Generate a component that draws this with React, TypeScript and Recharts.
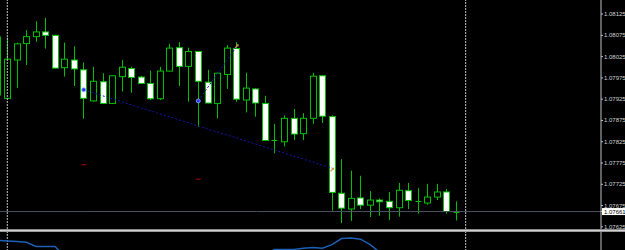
import React from 'react'
import {
  ComposedChart, LineChart, Bar, Line, Scatter, XAxis, YAxis, ReferenceLine
} from 'recharts'

// bar index -> OHLC (EURUSD)
const bars = [
  0, 1, 2, 3, 4, 5, 6, 7, 8, 9, 10, 11, 12, 13, 14, 15, 16, 17, 18, 19, 20, 21, 22, 23, 24,
  25, 26, 27, 28, 29, 30, 31, 32, 33, 34, 35, 36, 37, 38, 39, 40, 41, 42, 43, 44, 45, 46, 47, 48
]
const opens = [
  1.08071, 1.07927, 1.08017, 1.08056, 1.08072, 1.08083, 1.08075, 1.07999, 1.08017, 1.07994,
  1.07921, 1.07966, 1.07915, 1.07978, 1.07997, 1.07977, 1.07962, 1.07926, 1.07991, 1.08046,
  1.08002, 1.08037, 1.07965, 1.07915, 1.07983, 1.08044, 1.07923, 1.07949, 1.07915, 1.07828,
  1.07825, 1.07880, 1.07844, 1.07880, 1.07980, 1.07884, 1.07704, 1.07667, 1.07693, 1.07676,
  1.07688, 1.07685, 1.07670, 1.07710, 1.07684, 1.07681, 1.07695, 1.07707, 1.07661
]
const highs = [
  1.08073, 1.08070, 1.08058, 1.08087, 1.08108, 1.08116, 1.08076, 1.08058, 1.08049, 1.08011,
  1.08001, 1.07986, 1.07981, 1.08017, 1.08001, 1.07980, 1.07992, 1.08001, 1.08055, 1.08059,
  1.08046, 1.08038, 1.07994, 1.07987, 1.08052, 1.08059, 1.07987, 1.07951, 1.07933, 1.07867,
  1.07887, 1.07902, 1.07892, 1.07987, 1.07981, 1.07887, 1.07784, 1.07757, 1.07745, 1.07709,
  1.07692, 1.07707, 1.07728, 1.07728, 1.07716, 1.07726, 1.07726, 1.07714, 1.07685
]
const lows = [
  1.07928, 1.07925, 1.07951, 1.08005, 1.08060, 1.08044, 1.07997, 1.07978, 1.07956, 1.07879,
  1.07919, 1.07914, 1.07914, 1.07943, 1.07940, 1.07961, 1.07923, 1.07923, 1.07990, 1.07956,
  1.07919, 1.07860, 1.07915, 1.07880, 1.07949, 1.07919, 1.07894, 1.07884, 1.07827, 1.07798,
  1.07814, 1.07829, 1.07829, 1.07867, 1.07869, 1.07663, 1.07634, 1.07639, 1.07667, 1.07648,
  1.07651, 1.07641, 1.07649, 1.07667, 1.07656, 1.07677, 1.07688, 1.07656, 1.07640
]
const closes = [
  1.07935, 1.08019, 1.08055, 1.08072, 1.08083, 1.08075, 1.07998, 1.08019, 1.07996, 1.07927,
  1.07967, 1.07915, 1.07980, 1.08000, 1.07976, 1.07962, 1.07926, 1.07991, 1.08045, 1.08002,
  1.08037, 1.07967, 1.07916, 1.07986, 1.08045, 1.07925, 1.07951, 1.07916, 1.07828, 1.07829,
  1.07880, 1.07843, 1.07880, 1.07979, 1.07885, 1.07706, 1.07669, 1.07692, 1.07676, 1.07688,
  1.07684, 1.07670, 1.07711, 1.07687, 1.07686, 1.07695, 1.07707, 1.07661, 1.07661
]

// indicator in the lower window
const oscValues = [
  0.00102, 0.00101, 0.00100, 0.00099, 0.00092, 0.00092, 0.00092, 0.00075, 0.00072, 0.00070,
  0.00069, 0.00068, 0.00067, 0.00066, 0.00066, 0.00065, 0.00065, 0.00064, 0.00065, 0.00066,
  0.00067, 0.00068, 0.00069, 0.00070, 0.00071, 0.00072, 0.00073, 0.00075, 0.00078, 0.00087,
  0.00087, 0.00087, 0.00089, 0.00090, 0.00089, 0.00095, 0.00105, 0.00106, 0.00104, 0.00095,
  0.00082, 0.00078, 0.00075, 0.00073, 0.00071, 0.00070, 0.00069, 0.00068, 0.00068
]

const priceTicks = [
  1.08125, 1.08075, 1.08025, 1.07975, 1.07925, 1.07875,
  1.07825, 1.07775, 1.07725, 1.07675, 1.07625
]
const bidPrice = 1.07661
const oscTicks = [0.0011]
const periodSeparators = [1, 49]

// divergence lines (bar index, price)
const divLineA = [{ i: 9, price: 1.07947 }, { i: 35, price: 1.07763 }]
const divLineB = [{ i: 21, price: 1.07921 }, { i: 25, price: 1.08048 }]
const blueDots = [{ i: 9, price: 1.07947 }, { i: 21, price: 1.07921 }]
const arrows = [{ i: 25, price: 1.08049 }, { i: 35, price: 1.07759 }]
const redMarks = [{ i: 9, price: 1.07771 }, { i: 21, price: 1.07737 }]

const X_DOMAIN: [number, number] = [0.2356, 63.17]
const P_DOMAIN: [number, number] = [1.07620, 1.08158]
const OSC_DOMAIN: [number, number] = [0.000493, 0.00116]

const GREEN = '#00c000'
const AXIS = '#c0c0c0'
const LABEL = '#d0d0d0'
const FONT = '"Liberation Sans", Arial, sans-serif'

const rows = bars.map((i, k) => {
  const a = divLineA.find(d => d.i === i)
  const b = divLineB.find(d => d.i === i)
  return {
    i,
    open: opens[k],
    high: highs[k],
    low: lows[k],
    close: closes[k],
    range: [lows[k], highs[k]],
    divA: a ? a.price : null,
    divB: b ? b.price : null
  }
})

const oscRows = bars.map((i, k) => ({ i, v: oscValues[k] }))

function Candle(props: any) {
  const { x, y, width, height, payload } = props
  if (!payload || height == null) return null
  const { open, high, low, close } = payload
  const k = height / (high - low)
  const cx = Math.round(x + width / 2) + 0.5
  const yOf = (p: number) => y + (high - p) * k
  const top = yOf(Math.max(open, close))
  const bot = yOf(Math.min(open, close))
  const bull = close >= open
  return (
    <g>
      <line x1={cx} x2={cx} y1={y} y2={y + height} stroke={GREEN} strokeWidth={1} />
      {bot - top < 1.5 ? (
        <line x1={cx - 3} x2={cx + 3} y1={Math.round(top) + 0.5} y2={Math.round(top) + 0.5} stroke={GREEN} />
      ) : (
        <rect x={cx - 3} y={top} width={6} height={bot - top} fill={bull ? '#000' : '#fff'} stroke={GREEN} strokeWidth={1} />
      )}
    </g>
  )
}

function PriceTick(props: any) {
  const { x, y, payload } = props
  const v = payload.value as number
  if (Math.abs(v - bidPrice) < 1e-7) {
    return (
      <g>
        <rect x={x - 2} y={y - 3.5} width={26} height={7} fill="#ffffff" />
        <text x={x} y={y} dy={2} fontSize={6} fontFamily={FONT} fill="#000" textAnchor="start">
          {v.toFixed(5)}
        </text>
      </g>
    )
  }
  return (
    <text x={x} y={y} dy={2} fontSize={6} fontFamily={FONT} fill={LABEL} textAnchor="start">
      {v.toFixed(5)}
    </text>
  )
}

function OscTick(props: any) {
  const { x, y, payload } = props
  return (
    <text x={x} y={y} dy={2} fontSize={6} fontFamily={FONT} fill={LABEL} textAnchor="start">
      {(payload.value as number).toFixed(4)}
    </text>
  )
}

const RedMark = (p: any) => (
  <line x1={p.cx - 2.5} x2={p.cx + 2.5} y1={p.cy} y2={p.cy} stroke="#b00000" strokeWidth={1} />
)
const BlueDot = (p: any) => (
  <circle cx={p.cx} cy={p.cy} r={2} fill="#2038ff" stroke="#9aa8ff" strokeWidth={0.8} />
)
const Arrow = (p: any) => (
  <path d={`M${p.cx - 1.5},${p.cy + 1.5} L${p.cx + 1.5},${p.cy - 1.5} M${p.cx},${p.cy - 1.5} L${p.cx + 1.5},${p.cy - 1.5} L${p.cx + 1.5},${p.cy}`}
    stroke="#d89050" strokeWidth={1.2} fill="none" />
)

export default function App() {
  return (
    <div style={{ position: 'absolute', left: 0, top: 0, width: 625, height: 250, background: '#000', overflow: 'hidden' }}>
      <div style={{ position: 'absolute', left: 0, top: 0 }}>
        <ComposedChart width={625} height={229} data={rows} margin={{ top: 0, right: 0, left: 0, bottom: 0 }}>
          <XAxis dataKey="i" type="number" domain={X_DOMAIN} allowDataOverflow hide />
          <YAxis
            orientation="right"
            type="number"
            domain={P_DOMAIN}
            allowDataOverflow
            ticks={[...priceTicks, bidPrice]}
            interval={0}
            width={24}
            tickSize={2}
            tickMargin={1}
            axisLine={{ stroke: AXIS }}
            tickLine={{ stroke: AXIS }}
            tick={<PriceTick />}
          />
          {periodSeparators.map(s => (
            <ReferenceLine key={s} x={s} stroke={AXIS} strokeDasharray="2 1" />
          ))}
          <ReferenceLine y={bidPrice} stroke="#4a5262" />
          <Line dataKey="divA" stroke="#1414a8" strokeDasharray="2 2" dot={false} connectNulls isAnimationActive={false} />
          <Line dataKey="divB" stroke="#1414a8" strokeDasharray="2 2" dot={false} connectNulls isAnimationActive={false} />
          <Bar dataKey="range" barSize={7} shape={<Candle />} isAnimationActive={false} />
          <Scatter data={redMarks} dataKey="price" shape={RedMark} isAnimationActive={false} />
          <Scatter data={blueDots} dataKey="price" shape={BlueDot} isAnimationActive={false} />
          <Scatter data={arrows} dataKey="price" shape={Arrow} isAnimationActive={false} />
        </ComposedChart>
      </div>
      <div style={{ position: 'absolute', left: 0, top: 232 }}>
        <LineChart width={625} height={40} data={oscRows} margin={{ top: 0, right: 0, left: 0, bottom: 0 }}>
          <XAxis dataKey="i" type="number" domain={X_DOMAIN} allowDataOverflow hide />
          <YAxis
            orientation="right"
            type="number"
            domain={OSC_DOMAIN}
            allowDataOverflow
            ticks={oscTicks}
            width={24}
            tickSize={2}
            tickMargin={1}
            axisLine={{ stroke: AXIS }}
            tickLine={false}
            tick={<OscTick />}
          />
          {periodSeparators.map(s => (
            <ReferenceLine key={s} x={s} stroke={AXIS} strokeDasharray="2 1" />
          ))}
          <Line dataKey="v" stroke="#1c5fb4" strokeWidth={1.5} dot={false} isAnimationActive={false} />
        </LineChart>
      </div>
      <div style={{ position: 'absolute', left: 0, top: 229, width: 625, height: 1, background: '#8a8a8a' }} />
      <div style={{ position: 'absolute', left: 0, top: 230, width: 625, height: 1, background: '#d0d0d0' }} />
      <div style={{ position: 'absolute', left: 0, top: 231, width: 625, height: 1, background: '#9a9a9a' }} />
    </div>
  )
}
